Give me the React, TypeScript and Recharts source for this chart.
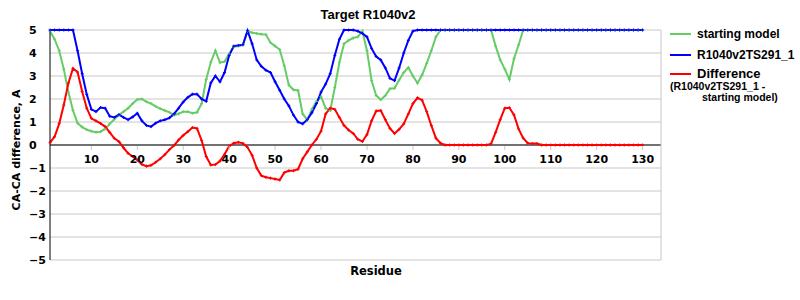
import { CartesianGrid, Label, Legend, Line, LineChart, ReferenceLine, XAxis, YAxis } from 'recharts';

// residue numbers along the x axis
const residues: number[] = Array.from({ length: 130 }, (_, i) => i + 1);

const startingModel: number[] = [
  4.95, 4.6, 4.1, 3.3, 2.3, 1.5, 0.95, 0.78, 0.67, 0.6,
  0.56, 0.58, 0.7, 0.92, 1.12, 1.3, 1.45, 1.6, 1.8, 1.98,
  2.0, 1.88, 1.8, 1.68, 1.58, 1.5, 1.42, 1.3, 1.36, 1.45,
  1.45, 1.38, 1.42, 1.8, 2.85, 3.6, 4.1, 3.58, 3.63, 3.95,
  4.27, 4.3, 4.35, 4.95, 4.88, 4.85, 4.82, 4.8, 4.45, 4.3,
  4.15, 3.45, 2.6, 2.4, 2.37, 1.35, 1.1, 1.55, 1.9, 2.1,
  1.6, 1.5, 2.5, 3.6, 4.4, 4.55, 4.65, 4.7, 4.95, 4.1,
  2.8, 2.15, 1.97, 2.15, 2.45, 2.47, 2.83, 3.15, 3.37, 3.0,
  2.69, 3.05, 3.55, 4.1, 4.7, 5, 5, 5, 5, 5,
  5, 5, 5, 5, 5, 5, 5, 4.3, 3.7, 3.3,
  2.85, 3.75, 4.35, 5, 5, 5, 5, 5, 5, 5,
  5, 5, 5, 5, 5, 5, 5, 5, 5, 5,
  5, 5, 5, 5, 5, 5, 5, 5, 5, 5,
];

const ts291: number[] = [
  5, 5, 5, 5, 5, 5, 4.1, 3.1, 2.2, 1.55,
  1.45, 1.63, 1.6, 1.25, 1.2, 1.32, 1.2, 1.1, 1.22, 1.38,
  1.05, 0.85, 0.8, 0.95, 1.05, 1.1, 1.18, 1.35, 1.6, 1.87,
  2.07, 2.21, 2.21, 2.0, 1.9, 2.7, 3.0, 2.75, 3.15, 3.9,
  4.3, 4.33, 4.36, 4.97, 4.4, 3.7, 3.42, 3.25, 3.15, 2.75,
  2.38, 2.0, 1.7, 1.3, 1.0, 0.92, 1.1, 1.4, 1.8, 2.3,
  2.65, 3.1, 3.9, 4.6, 5, 5, 5, 4.95, 4.85, 4.7,
  4.2, 3.85, 3.7, 3.35, 2.9, 2.8, 3.35, 4.0, 4.55, 4.95,
  5, 5, 5, 5, 5, 5, 5, 5, 5, 5,
  5, 5, 5, 5, 5, 5, 5, 5, 5, 5,
  5, 5, 5, 5, 5, 5, 5, 5, 5, 5,
  5, 5, 5, 5, 5, 5, 5, 5, 5, 5,
  5, 5, 5, 5, 5, 5, 5, 5, 5, 5,
];

const difference: number[] = [
  0.1, 0.36, 0.93, 1.74, 2.69, 3.33, 3.17, 2.33, 1.6, 1.16,
  1.05, 0.94, 0.8, 0.55, 0.29, 0.15, -0.12, -0.36, -0.5, -0.65,
  -0.84, -0.92, -0.88, -0.75, -0.6, -0.42, -0.2, -0.02, 0.22, 0.42,
  0.58, 0.76, 0.72, 0.2, -0.5, -0.87, -0.85, -0.7, -0.4, -0.05,
  0.08, 0.12, 0.07, -0.1, -0.45, -1.0, -1.33, -1.4, -1.44, -1.48,
  -1.52, -1.2, -1.12, -1.12, -1.05, -0.6, -0.3, 0.0, 0.25, 0.6,
  1.35, 1.6, 1.55, 1.2, 0.85, 0.65, 0.5, 0.25, 0.15, 0.45,
  1.05, 1.48, 1.5, 1.1, 0.72, 0.5, 0.68, 0.92, 1.35, 1.8,
  2.05, 1.95, 1.45, 0.85, 0.3, 0.08, 0, 0, 0, 0,
  0, 0, 0, 0, 0, 0, 0.05, 0.55, 1.1, 1.6,
  1.62, 1.31, 0.7, 0.3, 0.08, 0.06, 0.06, 0, 0, 0,
  0, 0, 0, 0, 0, 0, 0, 0, 0, 0,
  0, 0, 0, 0, 0, 0, 0, 0, 0, 0,
];

const xTicks = [10, 20, 30, 40, 50, 60, 70, 80, 90, 100, 110, 120, 130];
const yTicks = [-5, -4, -3, -2, -1, 0, 1, 2, 3, 4, 5];
const seriesNames = ['starting model', 'R1040v2TS291_1', 'Difference'];

const data = residues.map((residue, i) => ({
  residue,
  start: startingModel[i],
  model: ts291[i],
  diff: difference[i],
}));

const GREEN = '#66cc66';
const BLUE = '#0000ff';
const RED = '#ff0000';
const GRID = '#c8c8c8';
const tickFont = "'DejaVu Sans', sans-serif";
const textFont = "'Liberation Sans', Arial, sans-serif";

const TOP = 30;
const PLOT_H = 230;
const ZERO_Y = TOP + PLOT_H / 2;

const crossDot = (color: string) => (props: any) => {
  const { cx, cy, index } = props;
  if (cx == null || cy == null) return <g key={index} />;
  return (
    <path key={index} d={`M${cx - 1.5},${cy}h3M${cx},${cy - 1.5}v3`} stroke={color} strokeWidth={1} fill="none" />
  );
};

const XTick = (props: any) => {
  const { x, payload } = props;
  return (
    <g>
      <line x1={x} x2={x} y1={ZERO_Y + 1} y2={ZERO_Y + 5} stroke={GRID} />
      <text x={x} y={ZERO_Y + 18} textAnchor="middle" fontFamily={tickFont} fontWeight="bold" fontSize={11} fill="#000">
        {payload.value}
      </text>
    </g>
  );
};

const YTick = (props: any) => {
  const { y, payload } = props;
  const v = payload.value as number;
  return (
    <text x={29} y={y + 4} textAnchor="start" fontFamily={tickFont} fontWeight="bold" fontSize={11} fill="#000">
      {v < 0 ? `\u2212${-v}` : v}
    </text>
  );
};

const subText: Record<string, string[]> = {
  Difference: ['(R1040v2TS291_1 -', 'starting model)'],
};

const LegendBox = (props: any) => {
  const { payload = [] } = props;
  const rowY = [34, 55, 74];
  const items = seriesNames.map((n) => payload.find((p: any) => p.value === n)).filter(Boolean);
  return (
    <div style={{ position: 'relative', width: 130, height: 90 }}>
      {items.map((p: any, i: number) => (
        <div key={p.value}>
          <div style={{ position: 'absolute', left: 2, top: rowY[i] - 26 - 1, width: 21, height: 2, background: p.color }} />
          <div
            style={{
              position: 'absolute',
              left: 29,
              top: rowY[i] - 26 - 8,
              fontFamily: textFont,
              fontWeight: 'bold',
              fontSize: p.value === 'Difference' ? 13 : 12,
              lineHeight: '16px',
              whiteSpace: 'nowrap',
              color: '#000',
            }}
          >
            {p.value}
          </div>
          {(subText[p.value] || []).map((s, j) => (
            <div
              key={s}
              style={{
                position: 'absolute',
                left: j === 0 ? 2 : 34,
                top: 86 - 26 - 6 + j * 11,
                fontFamily: textFont,
                fontWeight: 'bold',
                fontSize: 10.5,
                lineHeight: '12px',
                whiteSpace: 'nowrap',
                color: '#000',
              }}
            >
              {s}
            </div>
          ))}
        </div>
      ))}
    </div>
  );
};

export default function App() {
  return (
    <div style={{ position: 'absolute', left: 0, top: 0, width: 800, height: 300, background: '#fff' }}>
      <div
        style={{
          position: 'absolute',
          left: 0,
          top: 7,
          width: 736,
          textAlign: 'center',
          fontFamily: textFont,
          fontWeight: 'bold',
          fontSize: 13,
          lineHeight: '16px',
        }}
      >
        Target R1040v2
      </div>
      <LineChart width={800} height={300} data={data} margin={{ top: TOP, right: 139, bottom: 0, left: 0 }}>
        <CartesianGrid vertical={false} stroke={GRID} />
        <XAxis
          dataKey="residue"
          type="number"
          domain={[1, 134]}
          ticks={xTicks}
          height={40}
          axisLine={false}
          tickLine={false}
          tick={<XTick />}
          interval={0}
        >
          <Label
            content={() => (
              <text x={376} y={275} textAnchor="middle" fontFamily={tickFont} fontWeight="bold" fontSize={11.5} fill="#000">
                Residue
              </text>
            )}
          />
        </XAxis>
        <YAxis
          type="number"
          domain={[-5, 5]}
          ticks={yTicks}
          width={50}
          axisLine={{ stroke: '#000' }}
          tickLine={false}
          tick={<YTick />}
          interval={0}
        >
          <Label
            content={() => (
              <text
                x={20}
                y={150}
                transform="rotate(-90 20 150)"
                textAnchor="middle"
                fontFamily={tickFont}
                fontWeight="bold"
                fontSize={11}
                fill="#000"
              >
                CA-CA difference, A
              </text>
            )}
          />
        </YAxis>
        <ReferenceLine y={0} stroke="#000" />
        <ReferenceLine x={134} stroke={GRID} />
        <Legend
          layout="vertical"
          align="center"
          verticalAlign="middle"
          wrapperStyle={{ left: 668, top: 26, width: 130 }}
          content={<LegendBox />}
        />
        <Line type="linear" dataKey="start" name="starting model" stroke={GREEN} strokeWidth={2} dot={crossDot(GREEN)} isAnimationActive={false} />
        <Line type="linear" dataKey="model" name="R1040v2TS291_1" stroke={BLUE} strokeWidth={2} dot={crossDot(BLUE)} isAnimationActive={false} />
        <Line type="linear" dataKey="diff" name="Difference" stroke={RED} strokeWidth={2} dot={crossDot(RED)} isAnimationActive={false} />
      </LineChart>
    </div>
  );
}
